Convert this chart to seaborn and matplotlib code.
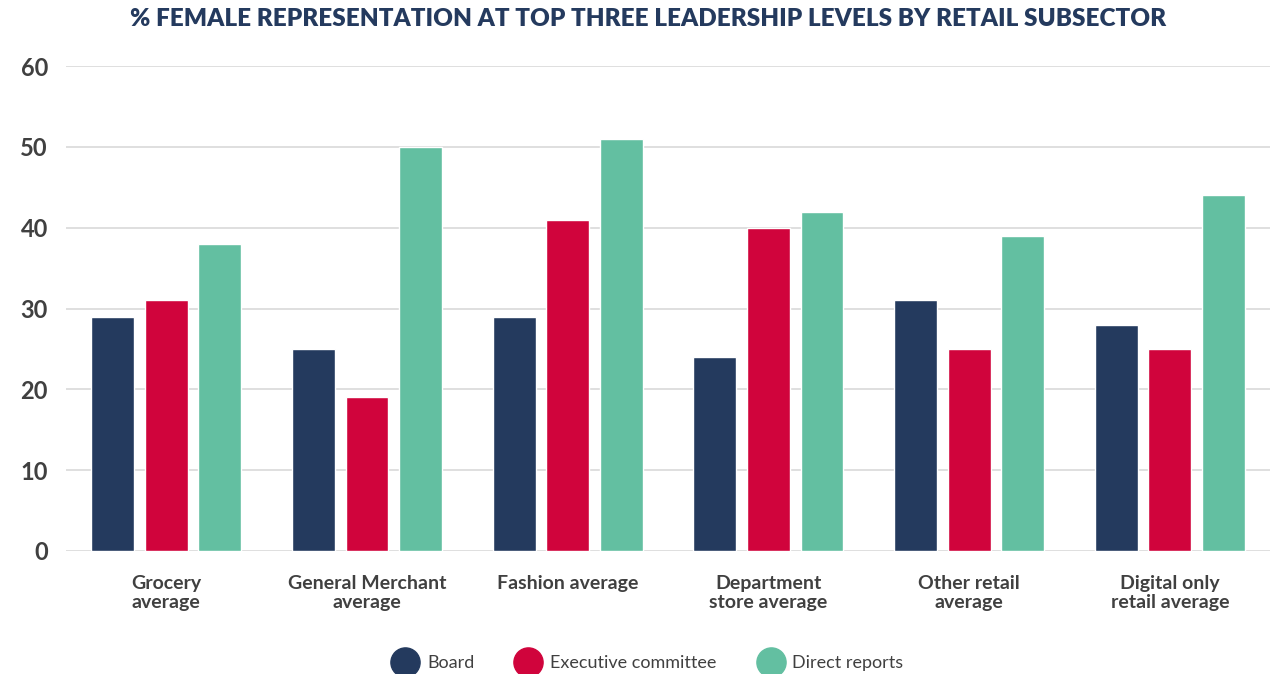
import numpy as np
import pandas as pd
import matplotlib.pyplot as plt
import seaborn as sns
from matplotlib.lines import Line2D

# Chart data
subsectors = ['Grocery\naverage', 'General Merchant\naverage', 'Fashion average',
              'Department\nstore average', 'Other retail\naverage', 'Digital only\nretail average']
levels = ['Board', 'Executive committee', 'Direct reports']
board = [29, 25, 29, 24, 31, 28]
executive = [31, 19, 41, 40, 25, 25]
direct = [38, 50, 51, 42, 39, 44]
palette = ['#243A5E', '#D0043C', '#63BFA1']

df = pd.DataFrame({'subsector': subsectors * 3,
                   'level': [levels[0]] * 6 + [levels[1]] * 6 + [levels[2]] * 6,
                   'value': board + executive + direct})

sns.set_style("white")
plt.rcParams['font.family'] = ['Lato', 'DejaVu Sans']

fig = plt.figure(figsize=(12.83, 6.74), dpi=100)
ax = fig.add_axes([0.0514, 0.1825, 0.9386, 0.7195])
sns.barplot(data=df, x='subsector', y='value', hue='level', palette=palette,
            width=0.8, gap=0.2, saturation=1, legend=False, ax=ax)

ax.set_ylim(0, 60)
ax.set_xlim(-0.5, 5.5)
ax.set_yticks(range(0, 61, 10))
ax.yaxis.grid(True, color='#d9d9d9', linewidth=1.2)
ax.set_axisbelow(True)
sns.despine(ax=ax, left=True, top=True, right=True, bottom=True)
ax.tick_params(axis='both', length=0)
ax.tick_params(axis='y', pad=13, labelsize=17, labelcolor='#404040')
ax.tick_params(axis='x', pad=17, labelsize=14, labelcolor='#404040')
for lab in ax.get_yticklabels():
    lab.set_fontweight('bold')
for lab in ax.get_xticklabels():
    lab.set_fontweight('bold')
    lab.set_verticalalignment('top')
    lab.set_linespacing(1.2)
ax.set_xlabel('')
ax.set_ylabel('')

fig.suptitle('% FEMALE REPRESENTATION AT TOP THREE LEADERSHIP LEVELS BY RETAIL SUBSECTOR',
             x=0.505, y=0.988, fontsize=17.5, fontweight='heavy', color='#243A5E')

handles = [Line2D([], [], marker='o', linestyle='', markersize=21,
                  markerfacecolor=c, markeredgecolor=c) for c in palette]
fig.legend(handles, levels, loc='center', bbox_to_anchor=(0.503, 0.016), ncol=3,
           frameon=False, fontsize=13, labelcolor='#404040',
           handletextpad=0.2, columnspacing=2.0)

fig.savefig('out.png', dpi=100)
